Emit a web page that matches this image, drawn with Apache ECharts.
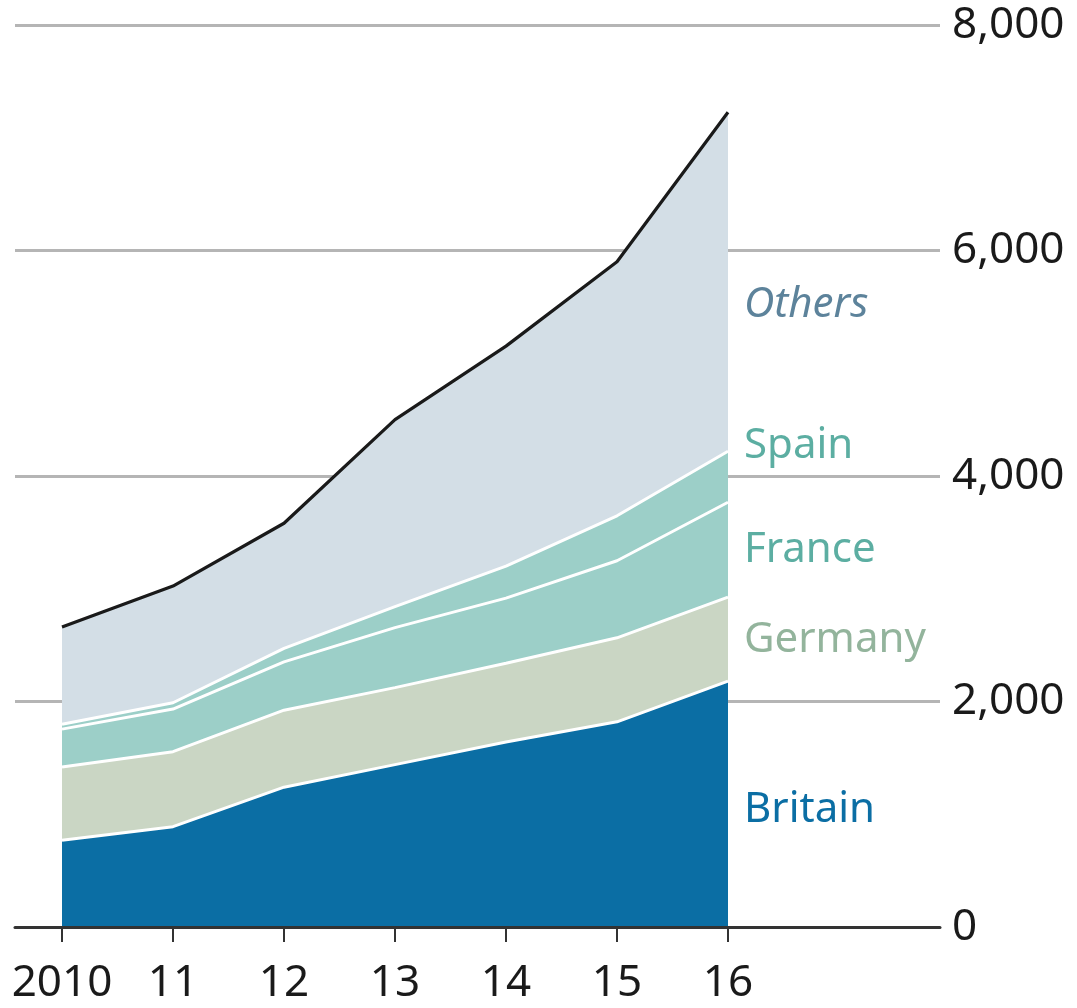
<!DOCTYPE html>
<html>
<head>
<meta charset="utf-8">
<script src="https://cdn.jsdelivr.net/npm/echarts@6/dist/echarts.min.js"></script>
<style>html,body{margin:0;padding:0;background:#fff}#c{width:1077px;height:1008px}</style>
</head>
<body>
<div id="c"></div>
<script>
const years = ['2010', '11', '12', '13', '14', '15', '16'];
const britain = [770, 890, 1240, 1440, 1640, 1820, 2180];
const germany = [650, 665, 683, 683, 700, 745, 745];
const france = [335, 378, 428, 532, 577, 683, 842];
const spain = [44, 56, 121, 186, 284, 399, 453];
const others = [861, 1035, 1109, 1659, 1951, 2253, 3006];
const yTicks = [0, 2000, 4000, 6000, 8000];

const seriesDefs = [
  { name: 'Britain', data: britain, color: '#0b6ea4', line: '#ffffff', lw: 3 },
  { name: 'Germany', data: germany, color: '#cad6c4', line: '#ffffff', lw: 3 },
  { name: 'France', data: france, color: '#9ccfc8', line: '#ffffff', lw: 3 },
  { name: 'Spain', data: spain, color: '#9ccfc8', line: '#ffffff', lw: 3 },
  { name: 'Others', data: others, color: '#d3dee6', line: '#1a1a1a', lw: 3.2 }
];

const labelDefs = [
  { text: 'Others', y: 303, color: '#5d839b', italic: true },
  { text: 'Spain', y: 444, color: '#5caea2' },
  { text: 'France', y: 548, color: '#5caea2' },
  { text: 'Germany', y: 638, color: '#93b49c' },
  { text: 'Britain', y: 808, color: '#0b6ea4' }
];

const chart = echarts.init(document.getElementById('c'), null, { renderer: 'canvas' });
const FONT = '"Noto Sans", sans-serif';

chart.setOption({
  animation: false,
  backgroundColor: '#ffffff',
  grid: [
    { left: 15, right: 137, top: 25, bottom: 81, containLabel: false },
    { left: 62, right: 349, top: 25, bottom: 81, containLabel: false }
  ],
  xAxis: [
    {
      gridIndex: 0,
      type: 'value',
      min: 0,
      max: 1,
      z: 20,
      splitLine: { show: false },
      axisLabel: { show: false },
      axisTick: { show: false },
      axisLine: { show: true, lineStyle: { color: '#333333', width: 3 } }
    },
    {
      gridIndex: 1,
      type: 'category',
      boundaryGap: false,
      data: years,
      axisLine: { show: false },
      axisTick: { show: true, length: 15, lineStyle: { color: '#333333', width: 2 } },
      axisLabel: {
        margin: 34,
        color: '#1a1a1a',
        fontFamily: FONT,
        fontSize: 44,
        interval: 0
      },
      splitLine: { show: false }
    }
  ],
  yAxis: [
    {
      gridIndex: 0,
      type: 'value',
      position: 'right',
      min: 0,
      max: 8000,
      interval: 2000,
      axisLine: { show: false },
      axisTick: { show: false },
      splitLine: { show: true, lineStyle: { color: '#b5b5b5', width: 3 } },
      axisLabel: {
        margin: 12,
        color: '#1a1a1a',
        fontFamily: FONT,
        fontSize: 44,
        formatter: v => v.toLocaleString('en-US')
      }
    },
    {
      gridIndex: 1,
      type: 'value',
      min: 0,
      max: 8000,
      show: false
    }
  ],
  series: seriesDefs.map((s, i) => ({
    name: s.name,
    type: 'line',
    xAxisIndex: 1,
    yAxisIndex: 1,
    stack: 'total',
    symbol: 'none',
    smooth: false,
    z: 10 - i,
    data: s.data,
    lineStyle: { color: s.line, width: s.lw },
    areaStyle: { color: s.color, opacity: 1 },
    itemStyle: { color: s.color }
  })),
  graphic: labelDefs.map(l => ({
    type: 'text',
    left: 744,
    top: l.y - 19,
    z: 100,
    style: {
      text: l.text,
      fill: l.color,
      font: (l.italic ? 'italic ' : '') + '42px ' + FONT
    }
  }))
});
</script>
</body>
</html>
